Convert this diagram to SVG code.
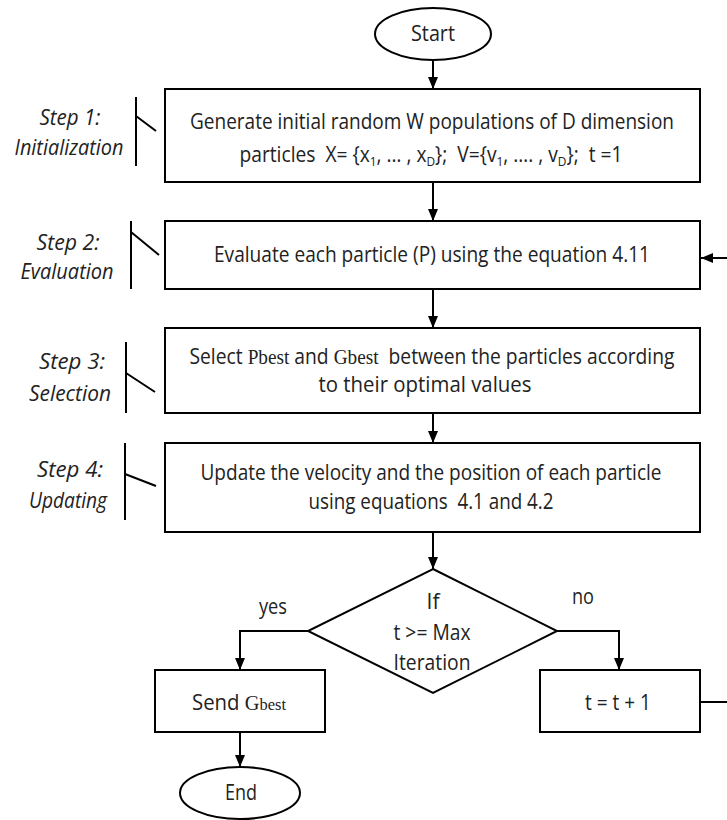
<svg xmlns="http://www.w3.org/2000/svg" width="727" height="820" viewBox="0 0 727 820">
<style>
.box{fill:#fff;stroke:#000;stroke-width:2}
.t{font-family:"Open Sans","Liberation Sans",sans-serif;font-size:21px;fill:#222;text-anchor:middle}
.it{font-style:italic}
.sv{font-family:"Liberation Serif",serif}
.sub{font-size:13px}
.pre{white-space:pre}
.c{fill:none;stroke:#000;stroke-width:2}
.br{fill:none;stroke:#000;stroke-width:2}
</style>
<defs>
<marker id="ah" markerUnits="userSpaceOnUse" markerWidth="12" markerHeight="10" refX="12" refY="5" orient="auto">
<path d="M0,0 L12,5 L0,10 z" fill="#000"/>
</marker>
</defs>
<g id="connectors">
<path class="c" d="M433,60 V89" marker-end="url(#ah)"/>
<path class="c" d="M433,182 V221" marker-end="url(#ah)"/>
<path class="c" d="M433,289 V328" marker-end="url(#ah)"/>
<path class="c" d="M433,413 V443" marker-end="url(#ah)"/>
<path class="c" d="M433,532 V569" marker-end="url(#ah)"/>
<path class="c" d="M308,631 H240 V670" marker-end="url(#ah)"/>
<path class="c" d="M557,631 H619 V670" marker-end="url(#ah)"/>
<path class="c" d="M240,732 V767" marker-end="url(#ah)"/>
<path class="c" d="M700,702 H727"/>
<path class="c" d="M727,258 H701" marker-end="url(#ah)"/>
</g>
<g id="start">
<ellipse cx="433" cy="34" rx="58" ry="26" class="box"/>
<text class="t" x="433" y="41" textLength="44" lengthAdjust="spacingAndGlyphs">Start</text>
</g>
<g id="step1">
<rect class="box" x="165" y="89" width="535" height="93"/>
<text class="t" x="432" y="129" textLength="484" lengthAdjust="spacingAndGlyphs">Generate initial random W populations of D dimension</text>
<text class="t pre" x="431" y="162" textLength="383" lengthAdjust="spacingAndGlyphs">particles  X= {x<tspan class="sub" baseline-shift="-4">1</tspan>, … , x<tspan class="sub" baseline-shift="-4">D</tspan>};  V={v<tspan class="sub" baseline-shift="-4">1</tspan>, …. , v<tspan class="sub" baseline-shift="-4">D</tspan>};  t =1</text>
</g>
<g id="label1">
<text class="t it" x="70" y="125" textLength="61" lengthAdjust="spacingAndGlyphs">Step 1:</text>
<text class="t it" x="69" y="155" textLength="109" lengthAdjust="spacingAndGlyphs">Initialization</text>
<path class="br" d="M136,97 V166 M136,116 L156,131"/>
</g>
<g id="step2">
<rect class="box" x="165" y="221" width="535" height="68"/>
<text class="t" x="432" y="262" textLength="436" lengthAdjust="spacingAndGlyphs">Evaluate each particle (P) using the equation 4.11</text>
</g>
<g id="label2">
<text class="t it" x="68" y="250" textLength="63" lengthAdjust="spacingAndGlyphs">Step 2:</text>
<text class="t it" x="67" y="279" textLength="93" lengthAdjust="spacingAndGlyphs">Evaluation</text>
<path class="br" d="M131,221 V289 M131,232 L159,255"/>
</g>
<g id="step3">
<rect class="box" x="165" y="328" width="535" height="85"/>
<text class="t pre" x="432" y="364" textLength="485" lengthAdjust="spacingAndGlyphs">Select <tspan class="sv">Pbest</tspan> and <tspan class="sv">Gbest</tspan>  between the particles according</text>
<text class="t" x="425" y="392" textLength="213" lengthAdjust="spacingAndGlyphs">to their optimal values</text>
</g>
<g id="label3">
<text class="t it" x="72" y="369" textLength="66" lengthAdjust="spacingAndGlyphs">Step 3:</text>
<text class="t it" x="70" y="401" textLength="82" lengthAdjust="spacingAndGlyphs">Selection</text>
<path class="br" d="M126,342 V413 M126,373 L155,392"/>
</g>
<g id="step4">
<rect class="box" x="165" y="443" width="535" height="89"/>
<text class="t" x="431" y="480" textLength="461" lengthAdjust="spacingAndGlyphs">Update the velocity and the position of each particle</text>
<text class="t pre" x="431" y="509" textLength="245" lengthAdjust="spacingAndGlyphs">using equations  4.1 and 4.2</text>
</g>
<g id="label4">
<text class="t it" x="70" y="477" textLength="66" lengthAdjust="spacingAndGlyphs">Step 4:</text>
<text class="t it" x="68" y="508" textLength="78" lengthAdjust="spacingAndGlyphs">Updating</text>
<path class="br" d="M125,443 V520 M125,474 L156,486"/>
</g>
<g id="decision">
<polygon class="box" points="433,569 557,631 433,693 308,631"/>
<text class="t" x="433" y="609" textLength="13" lengthAdjust="spacingAndGlyphs">If</text>
<text class="t" x="432" y="640" textLength="77" lengthAdjust="spacingAndGlyphs">t &gt;= Max</text>
<text class="t" x="432" y="670" textLength="77" lengthAdjust="spacingAndGlyphs">Iteration</text>
</g>
<g id="labels">
<text class="t" x="273" y="614" textLength="28" lengthAdjust="spacingAndGlyphs">yes</text>
<text class="t" x="583" y="604" textLength="22" lengthAdjust="spacingAndGlyphs">no</text>
</g>
<g id="send">
<rect class="box" x="155" y="670" width="170" height="62"/>
<text class="t" x="239" y="710" textLength="94" lengthAdjust="spacingAndGlyphs">Send <tspan class="sv">G</tspan><tspan class="sv" font-size="17">best</tspan></text>
</g>
<g id="incr">
<rect class="box" x="540" y="670" width="160" height="62"/>
<text class="t" x="618" y="710" textLength="66" lengthAdjust="spacingAndGlyphs">t = t + 1</text>
</g>
<g id="end">
<ellipse cx="240" cy="793" rx="60" ry="26" class="box"/>
<text class="t" x="241" y="800" textLength="32" lengthAdjust="spacingAndGlyphs">End</text>
</g>
</svg>
